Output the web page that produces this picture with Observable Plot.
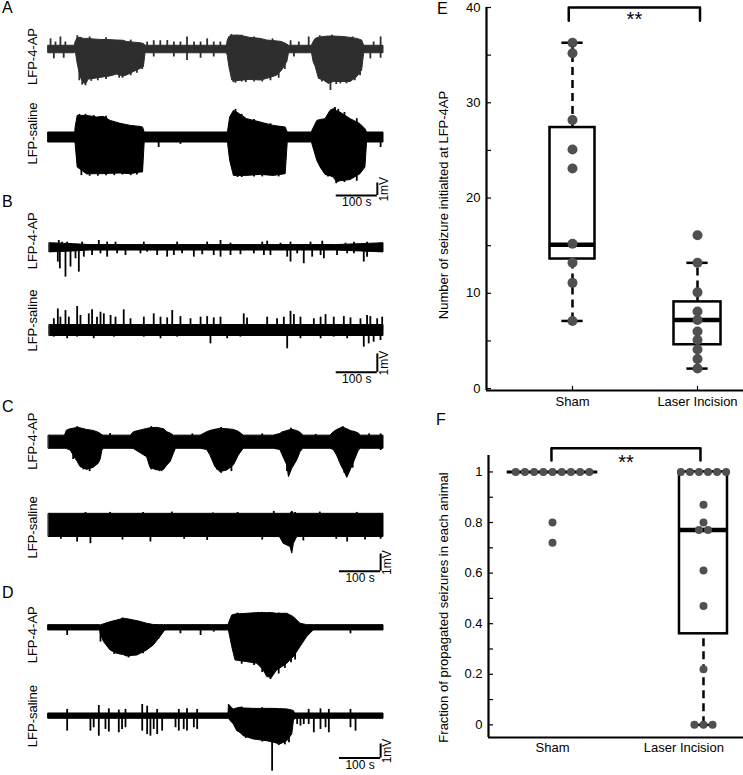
<!DOCTYPE html>
<html><head><meta charset="utf-8">
<script src="https://cdn.jsdelivr.net/npm/d3@7"></script>
<script src="https://cdn.jsdelivr.net/npm/@observablehq/plot@0.6"></script>
<style>
body{margin:0;background:#fff;font-family:Arial,"Liberation Sans",sans-serif;}
#fig{position:relative;width:743px;height:775px;overflow:hidden;background:#fff;}
.pl{position:absolute;left:0;}
.lt{position:absolute;font-size:16px;line-height:16px;color:#000;}
</style></head><body><div id="fig"></div>
<script>
// ---------------- DATA ----------------
// LFP traces: envelope rows [time s, upper mV, lower mV]; spikes [time s, amplitude mV]
const T_MAX = 815;
const a4apEnv = [[0,0.3,-0.3],[64,0.3,-0.3],[66,0.6,-0.1],[71,0.9,-1.15],[78,0.95,-2.2],[86,0.85,-2.7],[92,0.85,-2.75],[98,0.85,-2.4],[110,0.8,-2.35],[126,0.77,-2.27],[151,0.75,-2.15],[167,0.72,-2.0],[183,0.7,-2.16],[191,0.6,-2.08],[208,0.55,-1.8],[224,0.5,-1.55],[232,0.45,-1.41],[236,0.3,-0.3],[434,0.3,-0.3],[436,0.7,-0.5],[440,1.0,-1.4],[447,1.1,-2.48],[459,1.12,-2.53],[467,1.1,-2.5],[491,0.93,-2.43],[516,0.85,-2.48],[532,0.72,-2.35],[556,0.65,-2.1],[568,0.6,-1.7],[581,0.4,-1.0],[585,0.3,-0.3],[641,0.3,-0.3],[645,0.6,-1.0],[650,0.85,-1.4],[658,0.95,-2.35],[670,1.0,-2.48],[682,1.04,-2.75],[694,1.04,-2.6],[718,1.0,-2.6],[735,0.93,-2.6],[751,0.85,-2.21],[763,0.72,-1.68],[768,0.3,-0.3],[815,0.3,-0.3]];
const a4apSpk = [[5,0.85],[17,0.6],[29,1.0],[41,0.6],[240,0.6],[256,0.7],[272,0.7],[289,0.72],[305,0.6],[321,0.6],[337,1.0],[354,0.6],[370,0.6],[386,0.85],[402,0.6],[418,0.6],[589,0.7],[609,0.6],[633,1.0],[791,0.6],[808,1.0],[13,-0.75],[37,-0.7],[256,-0.6],[305,-0.6],[337,-0.88],[370,-0.7],[402,-0.6],[597,-0.6],[686,-3.28],[783,-0.75],[808,-0.7],[90,-2.9],[120,-2.5],[180,-2.3],[200,-2.1],[455,-2.7],[480,-2.65],[520,-2.6],[700,-2.8],[725,-2.75],[75,-2.5],[82,-2.85],[104,-2.55],[140,-2.4],[172,-2.3],[215,-1.9],[228,-1.6],[450,-2.65],[470,-2.6],[500,-2.6],[540,-2.5],[560,-2.3],[575,-1.6],[665,-2.6],[710,-2.75],[745,-2.5],[758,-2.1],[70,1.1],[100,1.0],[140,0.95],[200,0.75],[445,1.2],[470,1.15],[500,1.0],[545,0.85],[660,1.1],[690,1.15],[740,1.0]];
const aSalEnv = [[0,0.4,-0.4],[65,0.4,-0.4],[66,0.8,-0.53],[71,1.73,-2.4],[94,1.73,-2.95],[118,1.6,-2.93],[135,1.65,-2.93],[151,1.33,-2.9],[175,1.1,-2.88],[200,0.93,-2.93],[224,0.85,-2.8],[230,0.8,-2.8],[234,0.4,-0.4],[436,0.4,-0.4],[437,0.53,-0.53],[442,1.6,-1.87],[451,2.13,-3.07],[459,2.0,-3.07],[483,1.47,-3.07],[516,1.2,-2.99],[548,0.93,-3.07],[577,0.8,-2.93],[582,0.4,-0.4],[641,0.4,-0.4],[642,0.53,-0.53],[654,1.33,-1.87],[662,1.4,-2.4],[674,1.47,-3.0],[686,2.13,-3.1],[694,2.27,-3.2],[702,2.1,-3.6],[710,2.0,-3.5],[735,1.47,-3.4],[759,1.07,-2.93],[771,0.67,-2.4],[775,0.4,-0.4],[815,0.4,-0.4]];
const aSalSpk = [[268,-0.8],[321,-0.55],[808,-0.8],[80,-3.05],[120,-3.1],[160,-3.05],[200,-3.05],[460,-3.2],[520,-3.15],[700,-3.7],[75,1.85],[455,2.25],[697,2.4],[100,-3.1],[140,-3.05],[180,-3.0],[215,-3.0],[470,-3.2],[500,-3.15],[560,-3.15],[680,-3.15],[720,-3.6],[750,-3.5],[90,1.85],[110,1.75],[140,1.7],[470,1.85],[500,1.45],[540,1.1],[705,2.25],[720,2.0],[750,1.5]];
const b4apEnv = [[3,0.25,-0.25],[60,0.2,-0.2],[100,0.15,-0.15],[700,0.15,-0.15],[760,0.2,-0.2],[815,0.25,-0.25]];
const b4apSpk = [[22.7,-0.78],[27.6,-1.15],[41.3,-1.6],[53.5,-1.05],[65.7,-0.6],[73.8,-1.33],[86,-0.51],[106,-0.42],[126.5,-0.33],[142.7,-0.51],[167,-0.33],[187.3,-0.42],[223.8,-0.33],[240,-0.24],[264.4,-0.42],[288.7,-0.51],[305,-0.42],[325,-0.33],[353.6,-0.51],[374,-0.38],[402,-0.42],[418.5,-0.51],[442.8,-0.42],[467,-0.38],[499.6,-0.33],[524,-0.42],[540,-0.42],[580.7,-0.51],[588.8,-0.78],[605,-0.33],[621,-0.87],[641.5,-0.51],[662,-0.42],[670,-0.6],[702,-0.42],[726.6,-0.33],[743,-0.33],[767,-0.78],[775,-0.51],[25,0.4],[33,0.31],[45.4,0.31],[81.9,0.31],[122.4,0.4],[142.7,0.31],[163,0.31],[231.9,0.31],[313,0.31],[386,0.31],[418.5,0.4],[442.8,0.25],[520,0.31],[532,0.36],[564.4,0.25],[588.8,0.31],[637.5,0.31],[666,0.36],[722.6,0.25],[743,0.31],[775,0.31],[807.7,0.25]];
const bSalEnv = [[3,0.3,-0.3],[815,0.3,-0.3]];
const bSalSpk = [[13,0.64],[22.7,1.18],[29,0.73],[41.3,1.09],[49.5,0.73],[69.7,1.31],[77.8,0.82],[98,0.91],[106,1.13],[118,0.73],[126.5,1.0],[134.6,0.91],[151,0.82],[163,0.73],[183,1.13],[199.5,0.64],[231.9,0.73],[256,0.91],[272.5,0.73],[288.7,0.69],[301,1.09],[321,0.76],[345.5,0.64],[370,0.73],[386,0.76],[402,0.69],[418.5,0.73],[475,0.91],[483,0.69],[532,0.73],[556,0.64],[572.5,0.73],[588.8,1.05],[597,0.87],[613,0.73],[645.5,0.64],[662,0.73],[674,0.87],[694,0.73],[718.5,0.76],[734.7,0.69],[759,0.64],[775,0.82],[783,0.76],[799.6,0.64],[811.8,0.73],[13,-0.36],[45.4,-0.45],[69.7,-0.36],[110,-0.45],[159,-0.36],[231.9,-0.36],[272.5,-0.45],[313,-0.36],[394,-0.73],[434.7,-0.45],[467,-0.36],[580.7,-1.0],[613,-0.45],[662,-0.45],[694,-0.36],[726.6,-0.45],[767,-0.91],[779,-0.73],[791,-0.64],[807.7,-0.55]];
const c4apEnv = [[1,0.38,-0.38],[40,0.38,-0.38],[45,0.67,-0.4],[54,0.75,-0.48],[66,0.8,-0.96],[70,0.83,-1.1],[78,0.8,-1.44],[94,0.71,-1.6],[110,0.65,-1.48],[122,0.55,-1.25],[127,0.48,-1.0],[131,0.4,-0.5],[135,0.38,-0.38],[200,0.38,-0.38],[208,0.58,-0.4],[240,0.77,-0.87],[248,0.8,-1.48],[264,0.83,-1.63],[281,0.75,-1.6],[289,0.58,-1.35],[297,0.5,-1.15],[305,0.38,-0.67],[310,0.38,-0.38],[370,0.38,-0.38],[386,0.58,-0.45],[394,0.65,-0.77],[406,0.72,-1.44],[418,0.77,-1.73],[435,0.75,-1.63],[451,0.71,-1.35],[463,0.6,-0.77],[475,0.38,-0.38],[548,0.38,-0.38],[564,0.48,-0.45],[568,0.55,-0.67],[581,0.65,-1.35],[585,0.68,-2.02],[593,0.71,-1.54],[605,0.65,-1.06],[613,0.55,-0.58],[620,0.38,-0.38],[686,0.38,-0.38],[694,0.58,-0.45],[702,0.7,-0.77],[714,0.83,-1.44],[718,0.83,-1.6],[727,0.75,-2.06],[735,0.65,-1.63],[747,0.58,-0.96],[755,0.5,-0.48],[760,0.38,-0.38],[815,0.38,-0.38]];
const c4apSpk = [[808,0.48],[808,-0.48],[150,0.5],[350,0.48],[520,0.48],[650,0.45],[780,0.48],[100,-1.7],[90,-1.55],[270,-1.7],[420,-1.8],[60,-1.0],[85,-1.6],[250,-1.6],[275,-1.7],[410,-1.6],[445,-1.7],[580,-1.7],[720,-1.8],[740,-1.5],[70,0.9],[250,0.9],[420,0.85],[590,0.8],[716,0.9]];
const cSalEnv = [[1,0.67,-0.67],[560,0.67,-0.67],[564,0.67,-0.7],[572,0.67,-1.06],[589,0.67,-1.25],[593,0.81,-1.63],[597,0.67,-1.06],[605,0.67,-0.67],[815,0.67,-0.67]];
const cSalSpk = [[69.7,-0.96],[102,-1.06],[248,-0.96],[386,-0.87],[726.6,-0.96],[808,0.58],[808,-0.8],[548,0.81],[150,0.75],[300,0.77],[460,0.75],[660,0.77],[30,-0.8],[180,-0.85],[330,-0.8],[520,-0.85],[620,-0.9],[700,-0.8],[770,-0.85],[90,0.75],[230,0.75],[400,0.72],[600,0.75],[750,0.75]];
const d4apEnv = [[0,0.19,-0.19],[126,0.19,-0.19],[127,0.17,-0.43],[135,0.25,-1.02],[151,0.4,-1.62],[167,0.52,-1.86],[183,0.64,-1.95],[191,0.62,-2.05],[208,0.52,-2.0],[216,0.48,-1.98],[240,0.29,-1.62],[256,0.2,-1.26],[272,0.19,-0.67],[281,0.19,-0.31],[285,0.19,-0.19],[438,0.19,-0.19],[439,0.29,-0.19],[447,0.88,-1.38],[455,0.95,-2.33],[483,1.0,-2.45],[508,1.05,-2.57],[524,1.05,-3.05],[532,1.05,-3.52],[544,1.05,-3.57],[556,1.0,-3.05],[581,1.0,-2.57],[589,0.88,-2.3],[597,0.76,-2.1],[613,0.29,-1.38],[629,0.19,-0.67],[645,0.19,-0.19],[815,0.19,-0.19]];
const d4apSpk = [[45.4,-0.55],[126.5,-1.02],[203,-0.55],[268,-0.79],[321,-0.43],[370,-0.55],[402,-0.31],[734.7,-0.43],[160,-1.9],[195,-2.15],[230,-1.85],[470,-2.6],[500,-2.7],[520,-3.2],[540,-3.7],[560,-3.3],[575,-2.9],[590,-2.5],[600,-2.3],[180,0.7],[460,1.05],[520,1.1],[560,1.05]];
const dSalEnv = [[0,0.19,-0.19],[438,0.19,-0.19],[439,0.83,-0.2],[447,0.55,-0.48],[451,0.48,-0.6],[459,0.55,-1.07],[467,0.6,-1.2],[475,0.55,-1.43],[499.5,0.52,-1.67],[508,0.52,-1.7],[532,0.52,-1.79],[548,0.52,-1.9],[564,0.5,-2.02],[581,0.48,-1.79],[593,0.4,-1.31],[597,0.36,-0.36],[600,0.19,-0.19],[815,0.19,-0.19]];
const dSalSpk = [[45.4,-1.07],[45.4,0.48],[102,-1.07],[110,-0.83],[122.4,0.76],[122.4,-1.43],[138.6,-0.95],[146.8,0.52],[146.8,-1.14],[171,-1.19],[171,0.43],[179,-0.95],[187.3,0.48],[187.3,-0.83],[228,0.83],[228,-1.07],[240,0.71],[240,-1.31],[248,-1.43],[256,-0.95],[264.4,0.48],[264.4,-1.31],[276.5,-1.07],[309,-0.83],[317,0.48],[317,-1.07],[329,-0.95],[337,0.52],[337,-1.07],[353.6,-0.83],[361.7,0.48],[361.7,-0.95],[544,-3.93],[605,-0.6],[613,-0.71],[621,-0.6],[633,0.48],[633,-0.6],[645.5,-1.19],[661.7,0.52],[661.7,-0.95],[674,-0.83],[682,0.48],[682,-1.19],[734.7,0.48],[734.7,-0.83],[747,-1.07],[480,-1.6],[520,-1.85],[560,-2.1],[575,-2.05],[585,-1.9],[470,0.65],[520,0.6]];

// Panel E: number of seizures initiated at LFP-4AP
const groups = ["Sham", "Laser Incision"];
const eSham = [36.3, 35.2, 28.2, 25.1, 23.1, 15.2, 13.2, 11.1, 7.1];
const eLaser = [16.1, 13.2, 10.1, 8.1, 7.2, 6.0, 5.1, 4.1, 3.1, 2.1];
const eLow = [7.1, 2.1], eQ1 = [13.6, 4.6], eMed = [15.1, 7.2], eQ3 = [27.4, 9.1], eHigh = [36.3, 13.2];
const eTicks = [0, 10, 20, 30, 40];
// Panel F: fraction of propagated seizures
const fSham = [1,1,1,1,1,1,1,1,1, 0.8, 0.72];
const fLaser = [1,1,1,1,1,1, 0.87, 0.8, 0.77, 0.77, 0.61, 0.47, 0.22, 0, 0, 0];
const fLow = [1, 0], fQ1 = [1, 0.36], fMed = [1, 0.77], fQ3 = [1, 1], fHigh = [1, 1];
const fTicks = [0, 0.2, 0.4, 0.6, 0.8, 1];
const fTickText = ["0", "0.2", "0.4", "0.6", "0.8", "1"];
const signif = "**";

// ---------------- DRAWING ----------------
const fig = document.getElementById("fig");
const FONT = "Arial, 'Liberation Sans', sans-serif";
function place(el, top, left) {
  el.classList.add("pl"); el.style.top = top + "px"; el.style.left = (left||0) + "px"; fig.appendChild(el);
}
function letter(txt, top, left) {
  const d = document.createElement("div"); d.className = "lt"; d.textContent = txt;
  d.style.top = top + "px"; d.style.left = left + "px"; fig.appendChild(d);
}

function tracePanel(cfg) {
  const {top, height, pxPerMv, base0, traces, bar} = cfg;
  const yHi = base0 / pxPerMv, yLo = yHi - height / pxPerMv;
  const marks = [];
  for (const tr of traces) {
    const env = tr.env.map(([t, hi, lo]) => ({t, hi: hi + tr.offset, lo: lo + tr.offset}));
    const spk = tr.spikes.map(([t, a]) => ({t, y1: tr.offset, y2: a + tr.offset}));
    marks.push(Plot.areaY(env, {x: "t", y1: "lo", y2: "hi", fill: tr.color, stroke: tr.color, strokeWidth: 1}));
    marks.push(Plot.ruleX(spk, {x: "t", y1: "y1", y2: "y2", stroke: tr.color, strokeWidth: 1.8}));
    marks.push(Plot.text([tr], {text: "label", y: "offset", frameAnchor: "left", dx: -16, dy: tr.labelDy, rotate: -90, textAnchor: "middle", fontSize: 13, fill: "#000"}));
  }
  marks.push(Plot.ruleY([bar], {x1: "t0", x2: "t1", y: "v", stroke: "#000", strokeWidth: 2}));
  marks.push(Plot.ruleX([bar], {x: "t1", y1: "v", y2: d => d.v + 1, stroke: "#000", strokeWidth: 2}));
  marks.push(Plot.text([bar], {x: d => (d.t0 + d.t1) / 2, y: "v", dy: 7, text: () => "100 s", fontSize: 12}));
  marks.push(Plot.text([bar], {x: "t1", y: d => d.v + 0.5, dx: 7, rotate: -90, textAnchor: "middle", text: () => "1mV", fontSize: 12}));
  const svg = Plot.plot({
    width: 400, height, marginLeft: 48, marginRight: 17, marginTop: 0, marginBottom: 0,
    x: {domain: [0, T_MAX], axis: null},
    y: {domain: [yLo, yHi], axis: null},
    style: {background: "transparent", overflow: "visible", fontFamily: FONT},
    marks
  });
  place(svg, top, 0);
}

tracePanel({top: 0, height: 212, pxPerMv: 12.5, base0: 49,
  traces: [{label: "LFP-4-AP", offset: 0, env: a4apEnv, spikes: a4apSpk, color: "#2e2e2e", labelDy: 7},
           {label: "LFP-saline", offset: -7.04, env: aSalEnv, spikes: aSalSpk, color: "#000", labelDy: -4}],
  bar: {t0: 700, t1: 800, v: -11.68}});
tracePanel({top: 212, height: 183, pxPerMv: 18.3, base0: 35.3,
  traces: [{label: "LFP-4-AP", offset: 0, env: b4apEnv, spikes: b4apSpk, color: "#000", labelDy: -7},
           {label: "LFP-saline", offset: -4.52, env: bSalEnv, spikes: bSalSpk, color: "#000", labelDy: -10}],
  bar: {t0: 700, t1: 800, v: -6.8}});
tracePanel({top: 395, height: 185, pxPerMv: 17.3, base0: 46.7,
  traces: [{label: "LFP-4-AP", offset: 0, env: c4apEnv, spikes: c4apSpk, color: "#000", labelDy: -1},
           {label: "LFP-saline", offset: -4.81, env: cSalEnv, spikes: cSalSpk, color: "#000", labelDy: 2}],
  bar: {t0: 708, t1: 808, v: -7.46}});
tracePanel({top: 580, height: 195, pxPerMv: 14, base0: 47.3,
  traces: [{label: "LFP-4-AP", offset: 0, env: d4apEnv, spikes: d4apSpk, color: "#000", labelDy: 7},
           {label: "LFP-saline", offset: -6.31, env: dSalEnv, spikes: dSalSpk, color: "#000", labelDy: 0}],
  bar: {t0: 708, t1: 808, v: -9.3}});

letter("A", 0, 2); letter("B", 194, 2); letter("C", 399, 2); letter("D", 585, 2);

// spread tied values horizontally around the group centre
function spread(values, g, step) {
  const counts = d3.rollup(values, v => v.length, d => d);
  const seen = new Map();
  return values.map(v => {
    const n = counts.get(v), i = seen.get(v) || 0; seen.set(v, i + 1);
    return {x: g + (i - (n - 1) / 2) * step, v};
  });
}

function boxPanel(cfg) {
  const {top, height, mL, mT, mB, xDom, yDom, stats, pts, halfW, capW, medW, ticksMinor, ticksLab, tickText,
         xTickMarks, labelPos, labelDy, yLabel, yLabelDx, yLabelDy, bracket, r} = cfg;
  const width = 343;
  const frameW = width - mL, frameH = height - mT - mB;
  const marks = [
    Plot.ruleX(stats.filter(d => d.hi > d.q3), {x: "g", y1: "q3", y2: "hi", stroke: "#000", strokeWidth: 2.5, strokeDasharray: "8,5"}),
    Plot.ruleX(stats.filter(d => d.lo < d.q1), {x: "g", y1: "lo", y2: "q1", stroke: "#000", strokeWidth: 2.5, strokeDasharray: "8,5"}),
    Plot.ruleY(stats.filter(d => d.hi > d.q3), {y: "hi", x1: d => d.g - capW, x2: d => d.g + capW, stroke: "#000", strokeWidth: 2.5}),
    Plot.ruleY(stats.filter(d => d.lo < d.q1), {y: "lo", x1: d => d.g - capW, x2: d => d.g + capW, stroke: "#000", strokeWidth: 2.5}),
    Plot.rect(stats, {x1: d => d.g - halfW[d.g - 1], x2: d => d.g + halfW[d.g - 1], y1: "q1", y2: "q3", fill: "white", stroke: "#000", strokeWidth: 2.5}),
    Plot.ruleY(stats, {y: "med", x1: d => d.g - halfW[d.g - 1], x2: d => d.g + halfW[d.g - 1], stroke: "#000", strokeWidth: d => d.q1 === d.q3 ? 3 : medW}),
    Plot.dot(pts, {x: "x", y: "v", r, fill: "#505050", stroke: "none"}),
    Plot.ruleX([xDom[0]], {stroke: "#000", strokeWidth: 2.2}),
    Plot.ruleY([yDom[0]], {stroke: "#000", strokeWidth: 2.2}),
    Plot.ruleY(ticksMinor, {y: d => d, insetRight: frameW - 5, stroke: "#000", strokeWidth: 1.2}),
    Plot.text(ticksLab, {y: d => d, text: (d, i) => tickText[i], frameAnchor: "left", dx: -6, textAnchor: "end", fontSize: 13}),
    Plot.text(stats, {x: (d, i) => labelPos[i], text: "name", frameAnchor: "bottom", dy: labelDy, fontSize: 13}),
    Plot.text([yLabel], {text: d => d, frameAnchor: "left", dx: yLabelDx, dy: yLabelDy, rotate: -90, textAnchor: "middle", fontSize: 13}),
    Plot.line([{x: bracket.from, y: bracket.top - bracket.drop}, {x: bracket.from, y: bracket.top}, {x: bracket.to, y: bracket.top}, {x: bracket.to, y: bracket.top - bracket.drop}],
      {x: "x", y: "y", stroke: "#000", strokeWidth: 2.5, curve: "linear"}),
    Plot.text([bracket], {x: d => (d.from + d.to) / 2, y: "textY", text: "label", fontSize: 20})
  ];
  if (xTickMarks) marks.push(Plot.ruleX(xTickMarks, {x: d => d, insetTop: frameH - 4, stroke: "#000", strokeWidth: 1.2}));
  const svg = Plot.plot({
    width, height, marginLeft: mL, marginRight: 0, marginTop: mT, marginBottom: mB,
    x: {domain: xDom, axis: null}, y: {domain: yDom, axis: null},
    style: {background: "transparent", overflow: "visible", fontFamily: FONT, color: "#000"},
    marks
  });
  place(svg, top, 400);
}

const eStats = groups.map((name, i) => ({g: i + 1, name, lo: eLow[i], q1: eQ1[i], med: eMed[i], q3: eQ3[i], hi: eHigh[i]}));
boxPanel({top: 0, height: 430, mL: 86, mT: 7, mB: 40, xDom: [0.312, 2.368], yDom: [-0.2, 40],
  stats: eStats, pts: [...spread(eSham, 1, 0.07), ...spread(eLaser, 2, 0.07)],
  halfW: [0.18, 0.188], capW: 0.085, medW: 4.5, r: 5,
  ticksMinor: d3.range(0, 41, 5), ticksLab: eTicks, tickText: eTicks.map(String), xTickMarks: [1, 2],
  labelPos: [1, 2], labelDy: 15,
  yLabel: "Number of seizure initialted at LFP-4AP", yLabelDx: -43, yLabelDy: 6,
  bracket: {from: 0.97, to: 2.02, top: 40, drop: 1.4, textY: 38.7, label: signif}});

const fStats = groups.map((name, i) => ({g: i + 1, name, lo: fLow[i], q1: fQ1[i], med: fMed[i], q3: fQ3[i], hi: fHigh[i]}));
boxPanel({top: 440, height: 335, mL: 88, mT: 15, mB: 38, xDom: [0.576, 2.265], yDom: [-0.05, 1.065],
  stats: fStats, pts: [...spread(fSham, 1, 0.061), ...spread(fLaser, 2, 0.06)],
  halfW: [0.3, 0.159], capW: 0.07, medW: 4.5, r: 4,
  ticksMinor: d3.range(0, 11).map(i => i / 10), ticksLab: fTicks, tickText: fTickText, xTickMarks: null,
  labelPos: [1, 1.87], labelDy: 14,
  yLabel: "Fraction of propagated seizures in each animal", yLabelDx: -45, yLabelDy: 11,
  bracket: {from: 0.993, to: 1.98, top: 1.094, drop: 0.049, textY: 1.038, label: signif}});

letter("E", 1, 437); letter("F", 412, 436);
</script></body></html>
